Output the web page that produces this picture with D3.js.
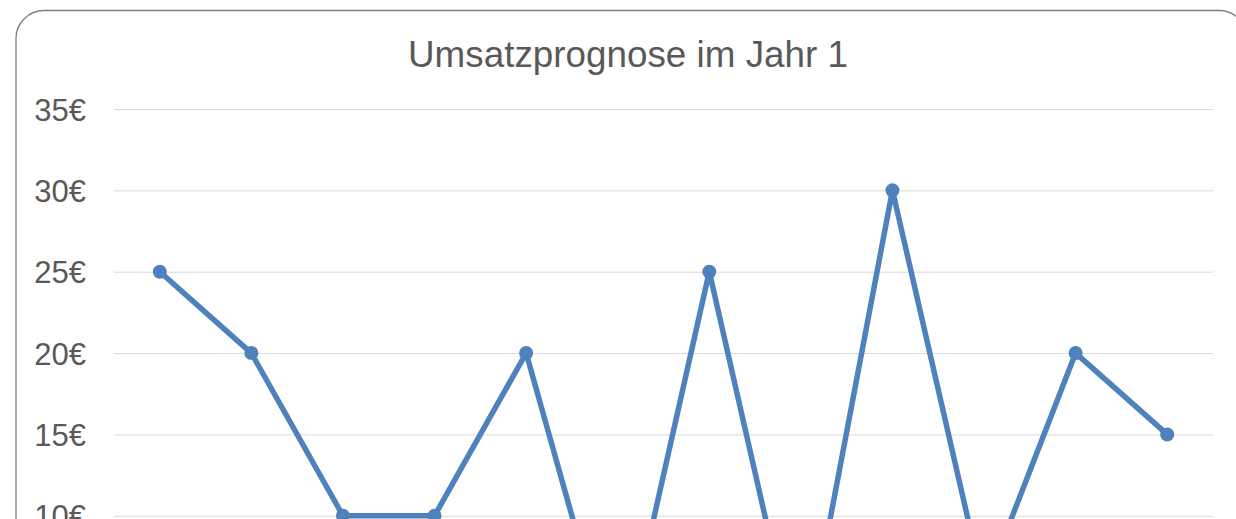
<!DOCTYPE html>
<html>
<head>
<meta charset="utf-8">
<script src="https://cdnjs.cloudflare.com/ajax/libs/d3/7.8.5/d3.min.js"></script>
<style>
  html, body { margin: 0; padding: 0; overflow: hidden; background: #fff; }
  svg { display: block; }
</style>
</head>
<body>
<script>
// data
var months = ["1", "2", "3", "4", "5", "6", "7", "8", "9", "10", "11", "12"];
var umsatz = [25, 20, 10, 10, 20, 0, 25, 0.3, 30, 5.5, 20, 15];
var yTicks = [0, 5, 10, 15, 20, 25, 30, 35];

var svgWidth = 1236;
var svgHeight = 760;

var svg = d3.select("body")
  .append("svg")
  .attr("width", svgWidth)
  .attr("height", svgHeight);

// chart frame (runs off the right and bottom of the window)
svg.append("rect")
  .attr("x", 16)
  .attr("y", 10.5)
  .attr("width", 1231)
  .attr("height", 740)
  .attr("rx", 28)
  .attr("ry", 28)
  .attr("fill", "#fff")
  .attr("stroke", "#7f7f7f")
  .attr("stroke-width", 1.3);

// title squeezed to the width seen in the picture
svg.append("text")
  .attr("x", 408)
  .attr("y", 66.5)
  .attr("textLength", 440)
  .attr("lengthAdjust", "spacingAndGlyphs")
  .attr("font-family", "Liberation Sans, Arial, sans-serif")
  .attr("font-size", 37.5)
  .attr("fill", "#595959")
  .text("Umsatzprognose im Jahr 1");

var x = d3.scaleBand()
  .domain(months)
  .range([114, 1213]);

var y = d3.scaleLinear()
  .domain([0, 35])
  .range([678.5, 109]);

// gridlines + y labels
var yAxis = d3.axisLeft(y)
  .tickValues(yTicks)
  .tickSize(-(1213 - 114))
  .tickPadding(28)
  .tickFormat(function (d) { return d + "€"; });

var gy = svg.append("g")
  .attr("transform", "translate(114,0)")
  .call(yAxis);
gy.select(".domain").remove();
gy.selectAll(".tick line")
  .attr("stroke", "#d9d9d9")
  .attr("stroke-width", 1);
gy.selectAll(".tick text")
  .attr("font-family", "Liberation Sans, Arial, sans-serif")
  .attr("font-size", 31)
  .attr("fill", "#595959")
  .attr("dy", "0.36em");

// x axis (below the visible part)
var xAxis = d3.axisBottom(x).tickSize(0).tickPadding(14);
var gx = svg.append("g")
  .attr("transform", "translate(0," + y(0) + ")")
  .call(xAxis);
gx.select(".domain").attr("stroke", "#d9d9d9");
gx.selectAll(".tick text")
  .attr("font-family", "Liberation Sans, Arial, sans-serif")
  .attr("font-size", 31)
  .attr("fill", "#595959");

var line = d3.line()
  .x(function (d, i) { return x(months[i]) + x.bandwidth() / 2; })
  .y(function (d) { return y(d); });

svg.append("path")
  .datum(umsatz)
  .attr("d", line)
  .attr("fill", "none")
  .attr("stroke", "#4f81bd")
  .attr("stroke-width", 5.5)
  .attr("stroke-linejoin", "round");

svg.selectAll("circle.pt")
  .data(umsatz)
  .enter()
  .append("circle")
  .attr("class", "pt")
  .attr("cx", function (d, i) { return x(months[i]) + x.bandwidth() / 2; })
  .attr("cy", function (d) { return y(d); })
  .attr("r", 7)
  .attr("fill", "#4f81bd");
</script>
</body>
</html>
